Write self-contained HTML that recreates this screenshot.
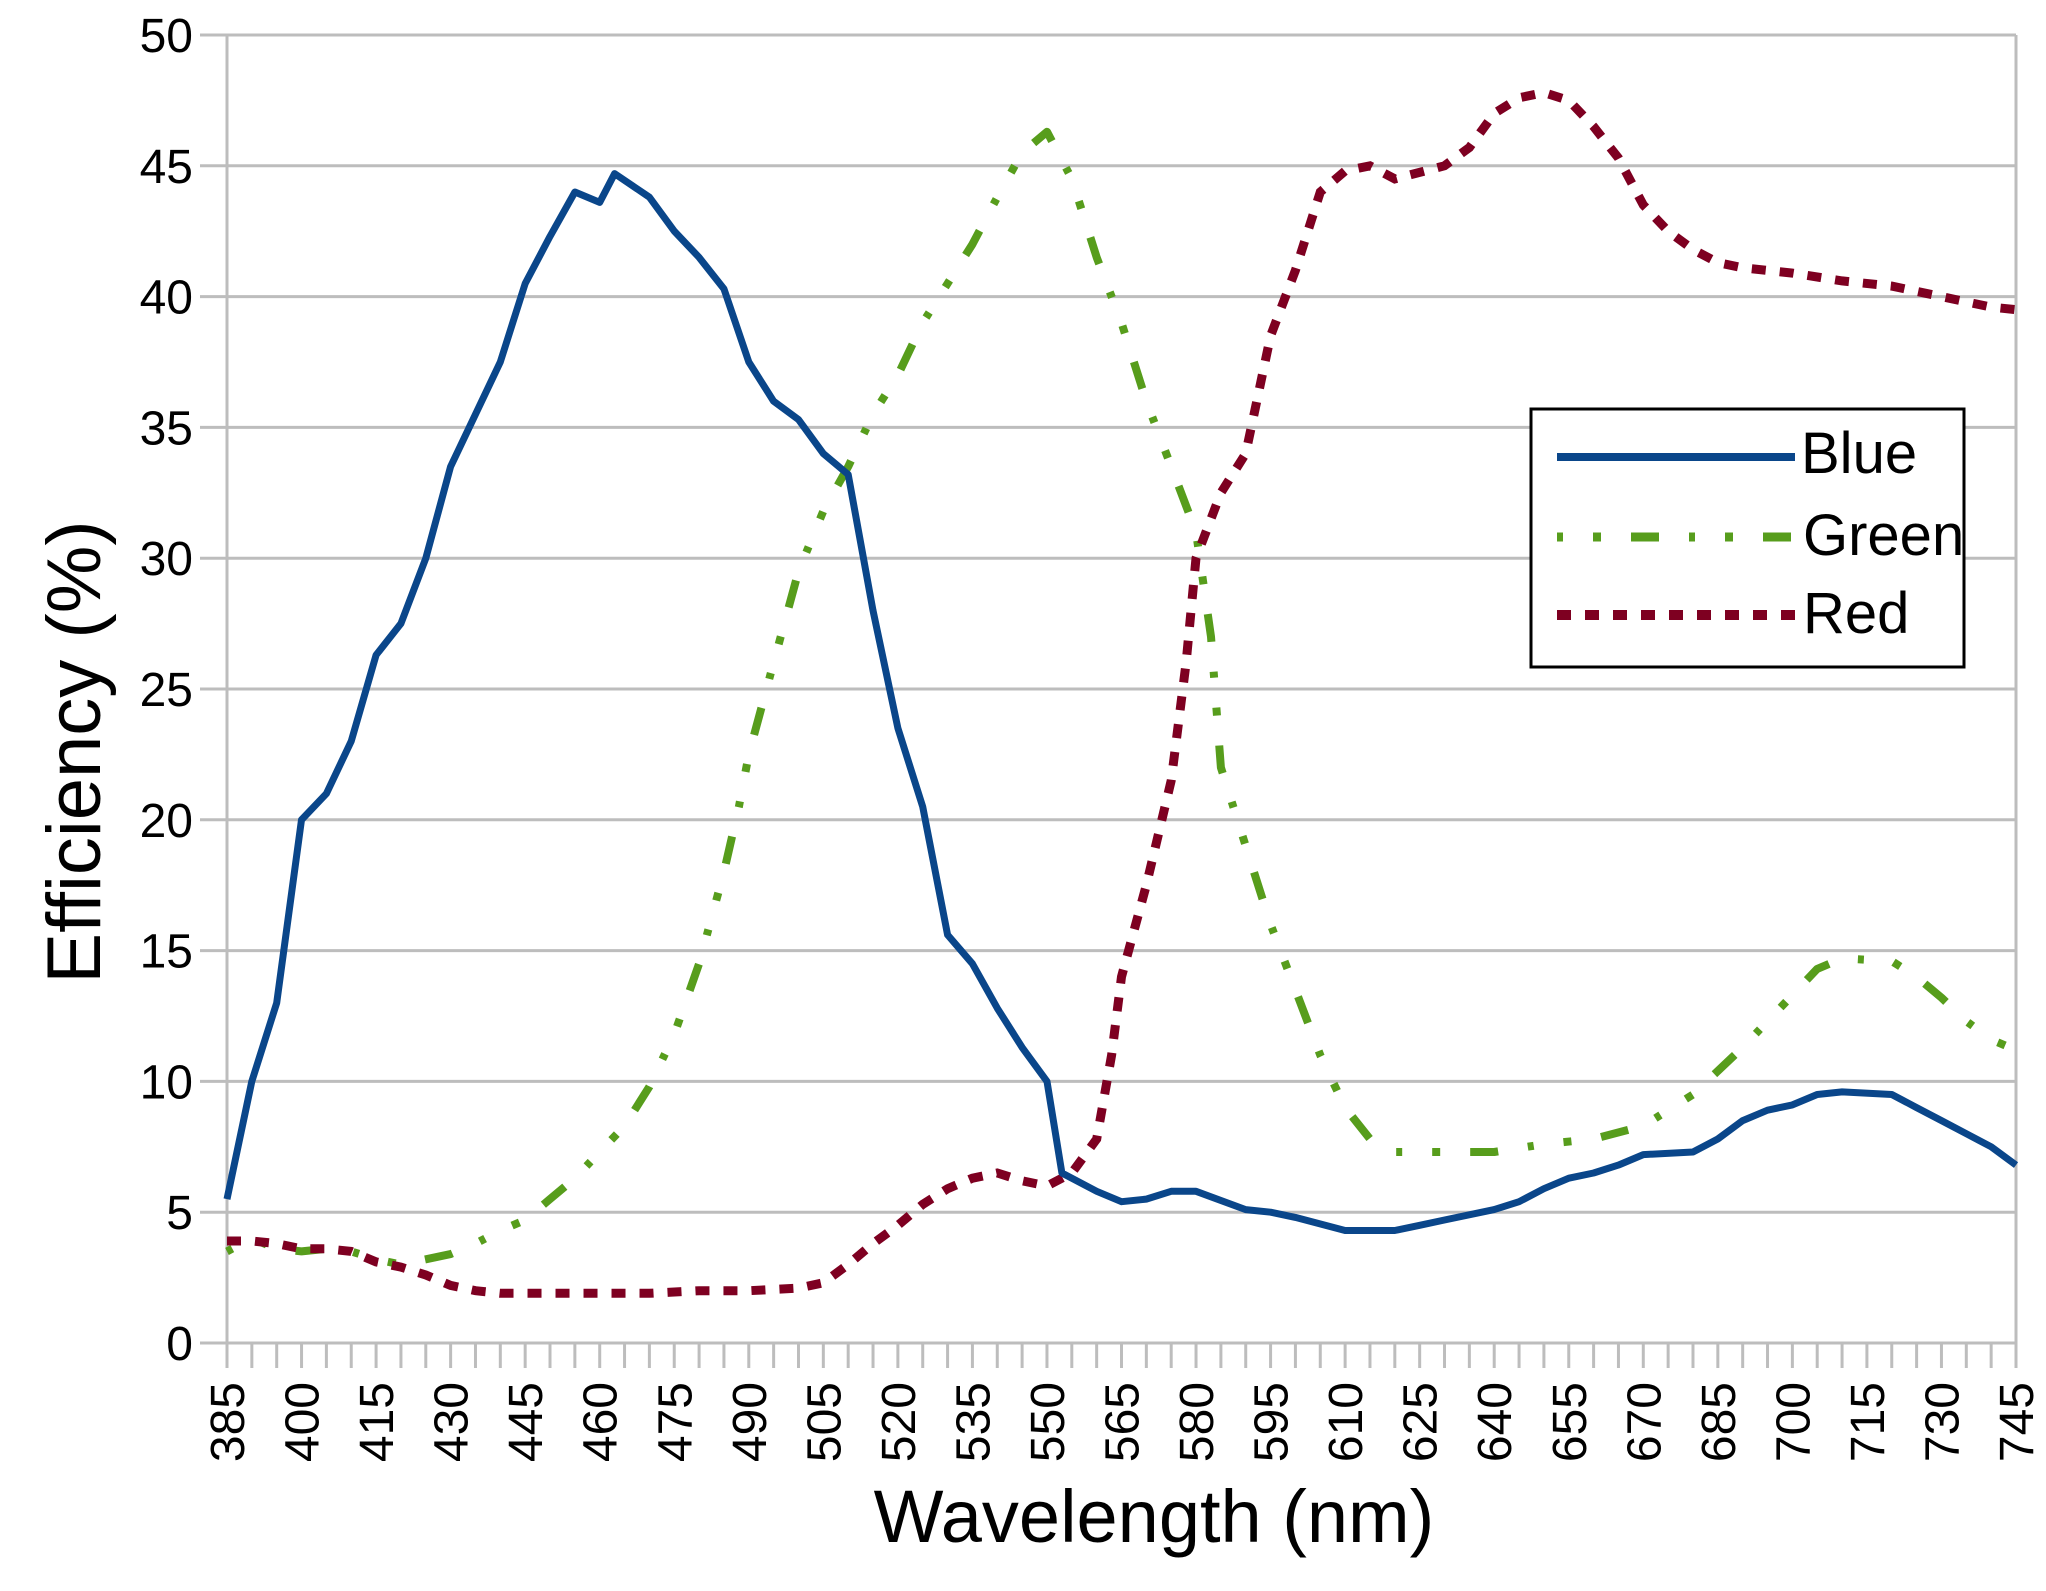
<!DOCTYPE html>
<html><head><meta charset="utf-8"><style>
html,body{margin:0;padding:0;background:#fff;}
svg{display:block;font-family:"Liberation Sans",Arial,sans-serif;}
</style></head><body>
<svg id="chart" width="2046" height="1591" viewBox="0 0 2046 1591" xmlns="http://www.w3.org/2000/svg">
<g id="grid"></g>
<g id="axes"></g>
<g id="series"></g>
<text x="1154" y="1542" font-size="74" text-anchor="middle" fill="#000">Wavelength (nm)</text>
<text transform="translate(100,752) rotate(-90)" font-size="76" text-anchor="middle" fill="#000">Efficiency (%)</text>
<g>
<rect x="1531" y="409" width="433" height="258" fill="#fff" stroke="#000" stroke-width="3"/>
<line x1="1557" y1="457" x2="1795" y2="457" stroke="#0a468a" stroke-width="8"/>
<text x="1801" y="473" font-size="58">Blue</text>
<line x1="1557" y1="537" x2="1795" y2="537" stroke="#579d1c" stroke-width="9" stroke-dasharray="6 30 8 30 28 30"/>
<text x="1803" y="555" font-size="58">Green</text>
<line x1="1557" y1="615" x2="1795" y2="615" stroke="#7e0021" stroke-width="10" stroke-dasharray="14 14"/>
<text x="1803" y="633" font-size="58">Red</text>
</g>
</svg>
<script>
const blueX=[385,390,395,400,405,410,415,420,425,430,435,440,445,450,455,460,463,470,475,480,485,490,495,500,505,510,515,520,525,530,535,540,545,550,553,560,565,570,575,580,590,595,600,610,620,625,630,640,645,650,655,660,665,670,680,685,690,695,700,705,710,720,725,730,735,740,745];
const blueY=[5.5,10,13,20,21,23,26.3,27.5,30,33.5,35.5,37.5,40.5,42.3,44,43.6,44.7,43.8,42.5,41.5,40.3,37.5,36,35.3,34,33.2,28,23.5,20.5,15.6,14.5,12.8,11.3,10,6.5,5.8,5.4,5.5,5.8,5.8,5.1,5,4.8,4.3,4.3,4.5,4.7,5.1,5.4,5.9,6.3,6.5,6.8,7.2,7.3,7.8,8.5,8.9,9.1,9.5,9.6,9.5,9,8.5,8,7.5,6.8];
const greenX=[385,390,395,400,405,410,415,420,425,430,435,440,445,450,455,460,465,470,475,480,485,488,490,495,500,505,510,515,520,525,530,535,540,545,550,555,560,565,570,575,580,583,585,590,595,600,605,610,615,620,630,640,650,660,670,680,690,695,700,705,710,720,725,730,735,740,745];
const greenY=[3.5,4,3.6,3.5,3.6,3.5,3.2,3.0,3.2,3.4,3.8,4.3,4.7,5.5,6.3,7.3,8.3,9.8,11.8,14.5,18,20.5,22.5,26,29.5,31.8,33.5,35.5,37,39,40.5,42,43.8,45.5,46.3,44.5,41.5,39,36,33.5,31,27,22,19,16,13.5,11,9,7.8,7.3,7.3,7.3,7.6,7.8,8.3,9.5,11.3,12.3,13.3,14.3,14.7,14.6,14,13.2,12.3,11.6,11.2];
const redX=[385,390,395,400,405,410,415,420,425,430,435,440,450,460,470,480,490,500,505,510,515,520,525,530,535,540,545,550,555,560,563,565,570,575,578,580,585,590,595,600,605,610,615,620,630,635,640,645,650,655,660,665,670,675,680,685,690,700,710,720,730,740,745];
const redY=[3.9,3.9,3.8,3.6,3.6,3.5,3.1,2.9,2.6,2.2,2.0,1.9,1.9,1.9,1.9,2.0,2.0,2.1,2.3,3.0,3.8,4.5,5.3,5.9,6.3,6.5,6.2,6.0,6.5,7.8,11,14,17.5,21.5,26,30,32.5,34,38.5,41,44,44.8,45,44.5,45,45.7,47,47.6,47.8,47.5,46.5,45.3,43.5,42.5,41.8,41.3,41.1,40.9,40.6,40.4,40,39.6,39.5];
const yTicks=[0,5,10,15,20,25,30,35,40,45,50];
const xTickLabels=[385,400,415,430,445,460,475,490,505,520,535,550,565,580,595,610,625,640,655,670,685,700,715,730,745];

const X0=227,X1=2016,Y0=1343,Y1=35;
function sx(v){return X0+(v-385)/(745-385)*(X1-X0);}
function sy(v){return Y0-(v/50)*(Y0-Y1);}
const NS="http://www.w3.org/2000/svg";
function mk(tag,attrs,parent){const e=document.createElementNS(NS,tag);for(const k in attrs)e.setAttribute(k,attrs[k]);parent.appendChild(e);return e;}
const grid=document.getElementById('grid'),axes=document.getElementById('axes'),series=document.getElementById('series');
yTicks.forEach(v=>{
  const l=mk('line',{x1:200,x2:X1,y1:sy(v),y2:sy(v),stroke:'#bdbdbd','stroke-width':3},grid);
  
  
  const t=mk('text',{x:193,y:sy(v)+17,'font-size':48,'text-anchor':'end',fill:'#000'},axes);
  t.textContent=v;
  
  
});
const yax=mk('line',{x1:X0,x2:X0,y1:Y1,y2:Y0+25,stroke:'#bdbdbd','stroke-width':3},axes);


const rax=mk('line',{x1:X1,x2:X1,y1:Y1,y2:Y0+25,stroke:'#bdbdbd','stroke-width':3},axes);


for(let w=385;w<=745;w+=5){
  const tk=mk('line',{x1:sx(w),x2:sx(w),y1:Y0,y2:Y0+25,stroke:'#bdbdbd','stroke-width':3},axes);
  
  
}
xTickLabels.forEach(v=>{
  const x=sx(v)+17,y=1382;
  const t=mk('text',{x:x,y:y,'font-size':48,'text-anchor':'end',fill:'#000',transform:'rotate(-90 '+x+' '+y+')'},axes);
  t.textContent=v;
  
  
});
function path(xs,ys){return xs.map((x,i)=>(i?'L':'M')+sx(x).toFixed(1)+' '+sy(ys[i]).toFixed(1)).join(' ');}
const pg=mk('path',{d:path(greenX,greenY),fill:'none',stroke:'#579d1c','stroke-width':8,'stroke-dasharray':'6 30 8 30 28 30','stroke-linejoin':'round'},series);


const pr=mk('path',{d:path(redX,redY),fill:'none',stroke:'#7e0021','stroke-width':9,'stroke-dasharray':'14 14'},series);


const pb=mk('path',{d:path(blueX,blueY),fill:'none',stroke:'#0a468a','stroke-width':7,'stroke-linejoin':'round'},series);


</script>
</body></html>
